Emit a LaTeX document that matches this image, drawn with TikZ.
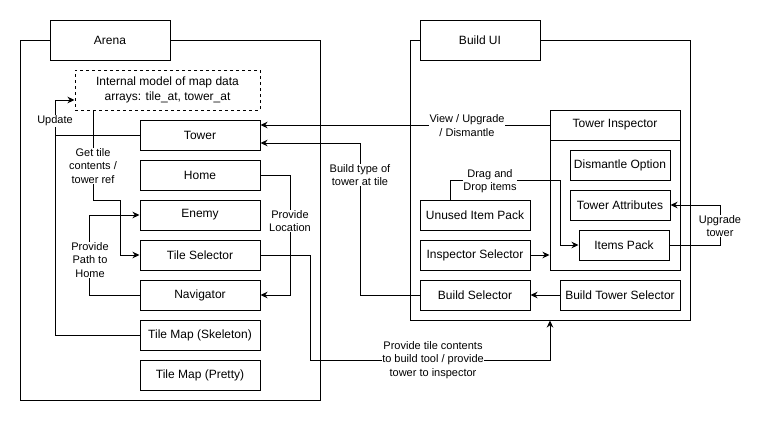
\documentclass[tikz,border=0pt]{standalone}
\usepackage{fontspec}
\setmainfont{Liberation Sans}
\usetikzlibrary{arrows.meta,calc}
\begin{document}
\begin{tikzpicture}[x=1pt,y=-1pt,
  every path/.style={line width=1pt},
  box/.style={draw, line width=1pt, fill=white, minimum height=30pt, inner sep=0pt,
    align=center, font=\fontsize{12}{14.4}\selectfont},
  cont/.style={draw, line width=1pt, inner sep=0pt},
  lbl/.style={fill=white, inner sep=0.6pt, align=center, font=\fontsize{11}{13.2}\selectfont},
  arr/.style={-{Stealth[length=7pt,width=6.5pt,inset=2.2pt]}, line width=1pt}]
\useasboundingbox (0,0) rectangle (762,442);
\fill[white] (0,0) rectangle (762,442);
% containers
\node[cont, minimum width=300pt, minimum height=360pt] (arena) at (170,220) {};
\node[box, minimum width=120pt, minimum height=40pt] (arenat) at (110,40) {Arena};
\node[cont, minimum width=280pt, minimum height=280pt] (bui) at (550,180) {};
\node[box, minimum width=120pt, minimum height=40pt] (buit) at (480,40) {Build UI};
% arena nodes
\node[box, dashed, minimum width=185pt, minimum height=40pt] (model) at (167.5,90) {Internal model of map data\\arrays: tile\_at, tower\_at};
\node[box, minimum width=120pt] (tower) at (200,135) {Tower};
\node[box, minimum width=120pt] (home) at (200,175) {Home};
\node[box, minimum width=120pt] (enemy) at (200,215) {Enemy};
\node[box, minimum width=120pt] (tsel) at (200,255) {Tile Selector};
\node[box, minimum width=120pt] (nav) at (200,295) {Navigator};
\node[box, minimum width=120pt] (skel) at (200,335) {Tile Map (Skeleton)};
\node[box, minimum width=120pt] (pretty) at (200,375) {Tile Map (Pretty)};
% build ui nodes
\node[cont, minimum width=130pt, minimum height=160pt] (ti) at (615,190) {};
\node[box, minimum width=130pt] (tih) at (615,125) {Tower Inspector};
\node[box, minimum width=100pt] (dis) at (620,165) {Dismantle Option};
\node[box, minimum width=100pt] (attr) at (620,205) {Tower Attributes};
\node[box, minimum width=90pt] (items) at (624,245) {Items Pack};
\node[box, minimum width=110pt] (unused) at (475,215) {Unused Item Pack};
\node[box, minimum width=110pt] (isel) at (475,255) {Inspector Selector};
\node[box, minimum width=110pt] (bsel) at (475,295) {Build Selector};
\node[box, minimum width=120pt] (bts) at (620,295) {Build Tower Selector};
% coordinates
\coordinate (u1) at (55,100);
\coordinate (g1) at (93,200);
\coordinate (g2) at (120,255);
\coordinate (t1) at (310,360);
\coordinate (b1) at (360,143);
\coordinate (d0) at (450,200);
\coordinate (d1) at (560,180);
\coordinate (a1) at (720,225);
% connectors
\draw[arr] (skel.west) -| (u1) -- (u1 -| model.west);
\draw (tower.west) -- (tower.west -| u1);
\node[lbl] at (55,121) {Update};
\draw[arr] (model.south -| g1) -- (g1) -| (g2) -- (tsel.west);
\node[lbl] at (93,166) {Get tile\\contents /\\tower ref};
\draw[arr] (nav.west) -- ++(-50,0) |- (enemy.west);
\node[lbl] at (90,260) {Provide\\Path to\\Home};
\draw[arr] (home.east) -- ++(30,0) |- (nav.east);
\node[lbl] at (290,221) {Provide\\Location};
\draw[arr] (tih.west) -- (tih.west -| tower.east);
\node[lbl] at (467,125.5) {View / Upgrade\\/ Dismantle};
\draw[arr] (bsel.west) -| (b1) -- (b1 -| tower.east);
\node[lbl] at (360,175) {Build type of\\tower at tile};
\draw[arr] (tsel.east) -| (t1) -| (bui.south);
\node[lbl] at (433,360) {Provide tile contents\\to build tool / provide\\tower to inspector};
\draw[arr] (d0) |- (d1) |- (items.west);
\node[lbl] at (490,181) {Drag and\\Drop items};
\draw[arr] (isel.east) -- (isel.east -| ti.west);
\draw[arr] (bts.west) -- (bsel.east);
\draw[arr] (items.east) -| (a1) |- (attr.east);
\node[lbl] at (720,226) {Upgrade\\tower};
\end{tikzpicture}
\end{document}
